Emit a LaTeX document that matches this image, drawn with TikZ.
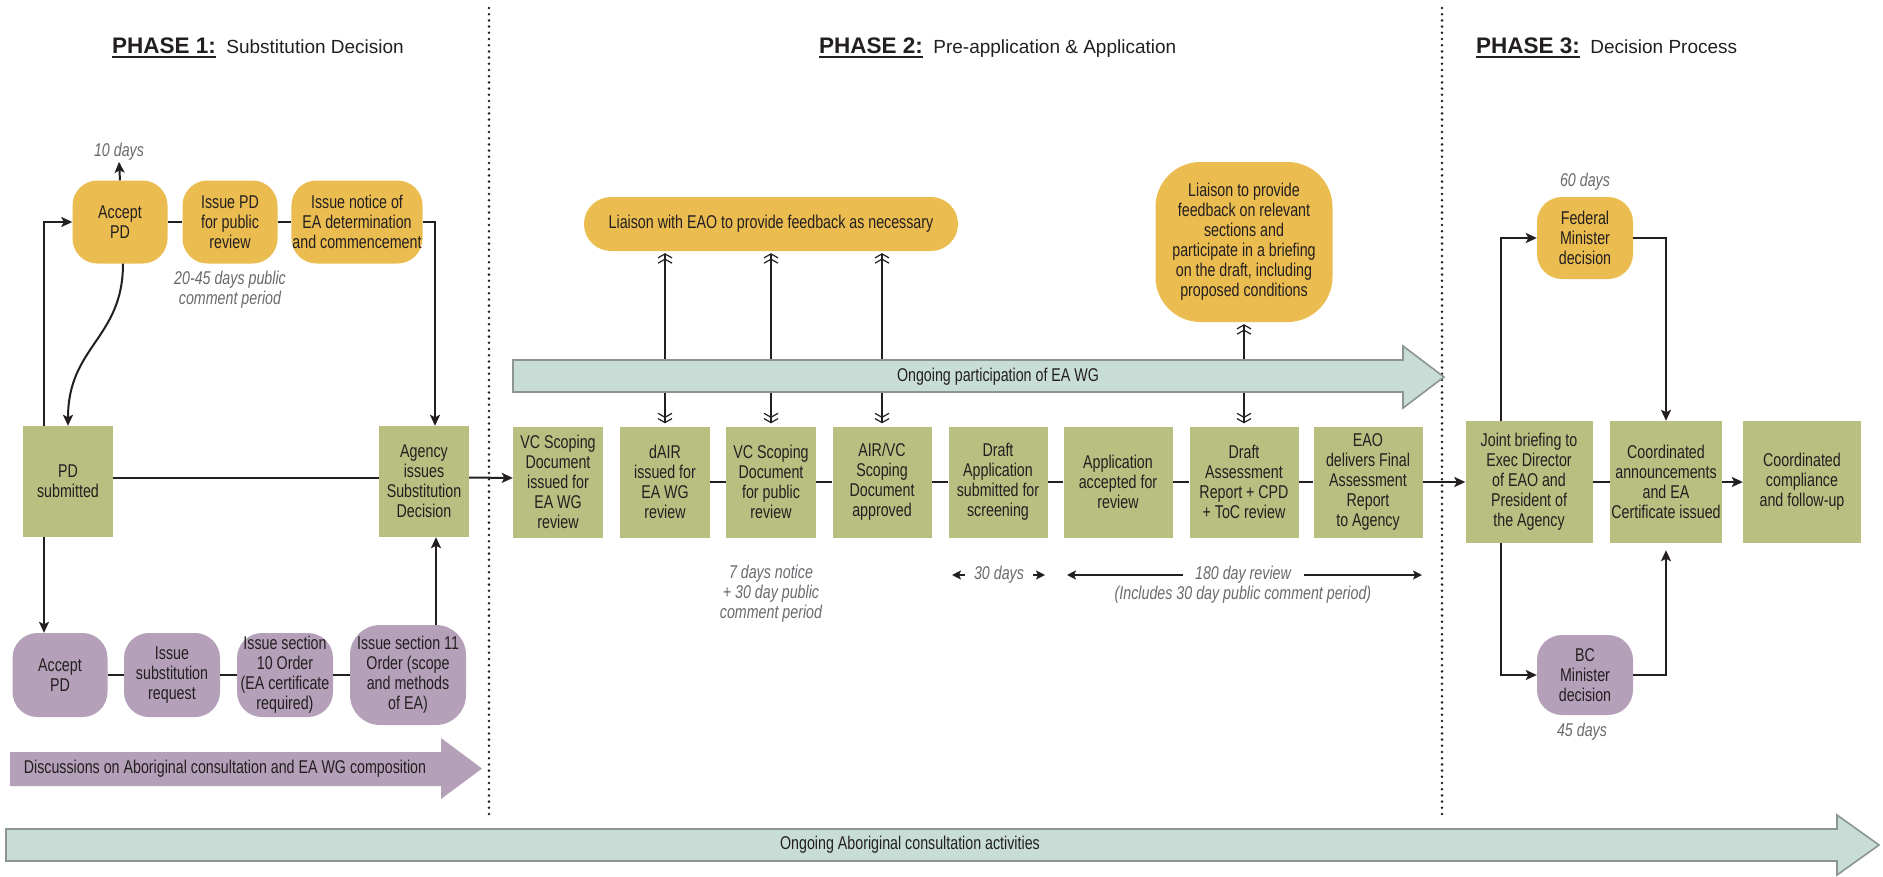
\documentclass[tikz,border=0pt]{standalone}
\usepackage{fontspec}
\setmainfont[FakeStretch=0.77]{Liberation Sans}
\newfontfamily\titlefont{Liberation Sans}
\usetikzlibrary{arrows.meta}
\definecolor{ink}{RGB}{35,31,32}
\definecolor{notegray}{RGB}{105,106,110}
\definecolor{boxgreen}{RGB}{185,191,129}
\definecolor{boxyellow}{RGB}{235,189,80}
\definecolor{boxpurple}{RGB}{180,160,184}
\definecolor{bandteal}{RGB}{200,221,214}
\definecolor{bandedge}{RGB}{140,148,148}

\begin{document}
\begin{tikzpicture}[x=1pt,y=-1pt,
        font=\fontsize{18.5}{20}\selectfont, text=ink,
        green box/.style={fill=boxgreen, minimum width=#1pt, minimum height=111pt, inner sep=1pt, align=center},
        yellow box/.style={fill=boxyellow, rounded corners=25pt, minimum width=95pt, minimum height=83pt, inner sep=1pt, align=center},
        purple box/.style={fill=boxpurple, rounded corners=25pt, minimum width=#1pt, minimum height=84pt, inner sep=1pt, align=center},
        day note/.style={font=\itshape\fontsize{18.5}{20}\selectfont, text=notegray, align=center, inner sep=1pt},
        flow/.style={draw=ink, line width=2pt},
        flow arrow/.style={flow, -{Stealth[length=11pt,width=10pt,inset=2.5pt]}},
        span arrow/.style={draw=ink, line width=1.6pt, -{Stealth[length=9pt,width=9pt,inset=2pt]}},
        dbl arrow/.style={draw=ink, line width=1.8pt,
          {Straight Barb[length=4pt,width=14pt,line width=1.2pt]Straight Barb[length=4pt,width=14pt,line width=1.2pt]}-{Straight Barb[length=4pt,width=14pt,line width=1.2pt]Straight Barb[length=4pt,width=14pt,line width=1.2pt]},
          shorten <=3pt, shorten >=2pt},
        band/.style={fill=bandteal, draw=bandedge, line width=1.6pt},
        phase line/.style={draw=ink, line width=2.8pt, line cap=round, dash pattern=on 0pt off 6.2pt},
        phase head/.style={anchor=base west, inner sep=0pt, font=\titlefont\bfseries\fontsize{22.5}{26}\selectfont},
        phase name/.style={anchor=base west, inner sep=0pt, font=\titlefont\fontsize{19}{22}\selectfont},
        under line/.style={draw=ink, line width=2.6pt}]
  \useasboundingbox (0,0) rectangle (1883,876);
  \fill[white] (0,0) rectangle (1883,876);

  % titles
  \node[phase head] (ph1) at (112,53) {PHASE 1:};
  \node[phase name] (ph1n) at ([xshift=10pt]ph1.base east) {Substitution Decision};
  \node[phase head] (ph2) at (819,53) {PHASE 2:};
  \node[phase name] (ph2n) at ([xshift=10pt]ph2.base east) {Pre-application \& Application};
  \node[phase head] (ph3) at (1476,53) {PHASE 3:};
  \node[phase name] (ph3n) at ([xshift=10pt]ph3.base east) {Decision Process};
  \foreach \p in {ph1,ph2,ph3}
    \draw[under line] ([yshift=-3.8pt]\p.base west) -- ([yshift=-3.8pt]\p.base east);

  \draw[phase line] (489,8) -- (489,819);
  \draw[phase line] (1442,8) -- (1442,819);

  % phase 1
  \node[yellow box] (acc) at (120,222) {Accept\\PD};
  \node[yellow box] (ipd) at (230,222) {Issue PD\\for public\\review};
  \node[yellow box, minimum width=128pt] (notice) at (357,222) {Issue notice of\\EA determination\\and commencement};
  \node[day note] (d10) at (119,152) {10 days};
  \node[day note] (d2045) at (230,290) {20-45 days public\\comment period};
  \node[green box=90] (pdsub) at (68,481.5) {PD\\submitted};
  \node[green box=90] (agency) at (424,481.5) {Agency\\issues\\Substitution\\Decision};
  \node[purple box=95] (accp) at (60,675) {Accept\\PD};
  \node[purple box=96] (subreq) at (172,675) {Issue\\substitution\\request};
  \node[purple box=96] (sec10) at (285,675) {Issue section\\10 Order\\(EA certificate\\required)};
  \node[purple box=116, minimum height=100pt, rounded corners=30pt] (sec11) at (408,675) {Issue section 11\\Order (scope\\and methods\\of EA)};

  \draw[flow arrow] (acc.north) -- (d10.south);
  \draw[flow] (acc.east) -- (ipd.west) (ipd.east) -- (notice.west);
  \draw[flow arrow] (notice.east) -| ([xshift=11pt]agency.north);
  \draw[flow arrow] ([xshift=-24pt]pdsub.north) |- (acc.west);
  \draw[flow arrow] ([xshift=3pt]acc.south) .. controls +(0,75) and +(0,-80) .. (pdsub.north);
  \draw[flow] ([yshift=4pt]pdsub.east) -- ([yshift=4pt]agency.west);
  \draw[flow arrow] ([xshift=-24pt]pdsub.south) -- ([xshift=-24pt]pdsub.south |- accp.north);
  \draw[flow] (accp.east) -- (subreq.west) (subreq.east) -- (sec10.west) (sec10.east) -- (sec11.west);
  \draw[flow arrow] ([xshift=28pt]sec11.north) -- ([xshift=28pt]sec11.north |- agency.south);

  \fill[boxpurple] (10,752) -- (441,752) -- (441,738) -- (482,768.5) -- (441,799) -- (441,786) -- (10,786) -- cycle;
  \node (disc) at (225,769) {Discussions on Aboriginal consultation and EA WG composition};

  % phase 2
  \node[yellow box, minimum width=374pt, minimum height=54pt, rounded corners=27pt] (lia) at (771,224) {Liaison with EAO to provide feedback as necessary};
  \node[yellow box, minimum width=177pt, minimum height=160pt, rounded corners=45pt] (lia2) at (1244,242) {Liaison to provide\\feedback on relevant\\sections and\\participate in a briefing\\on the draft, including\\proposed conditions};
  \node[green box=90]  (b1) at (558,482)  {VC Scoping\\Document\\issued for\\EA WG\\review};
  \node[green box=90]  (b2) at (665,482)  {dAIR\\issued for\\EA WG\\review};
  \node[green box=90]  (b3) at (771,482)  {VC Scoping\\Document\\for public\\review};
  \node[green box=99]  (b4) at (882,482)  {AIR/VC\\Scoping\\Document\\approved};
  \node[green box=99]  (b5) at (998,482)  {Draft\\Application\\submitted for\\screening};
  \node[green box=109] (b6) at (1118,482) {Application\\accepted for\\review};
  \node[green box=109] (b7) at (1244,482) {Draft\\Assessment\\Report + CPD\\+ ToC review};
  \node[green box=109] (b8) at (1368,482) {EAO\\delivers Final\\Assessment\\Report\\to Agency};

  \draw[flow arrow] ([yshift=4pt]agency.east) -- ([yshift=4pt]b1.west);
  \draw[flow] (b2.east) -- (b3.west) (b3.east) -- (b4.west) (b4.east) -- (b5.west)
              (b5.east) -- (b6.west) (b6.east) -- (b7.west) (b7.east) -- (b8.west);
  \foreach \b in {b2,b3,b4}
    \draw[dbl arrow] (\b.north) -- (\b.north |- lia.south);
  \draw[dbl arrow] (b7.north) -- (b7.north |- lia2.south);

  \filldraw[band] (513,360) -- (1403,360) -- (1403,346) -- (1444,377) -- (1403,408) -- (1403,392) -- (513,392) -- cycle;
  \node (wg) at (998,377) {Ongoing participation of EA WG};

  \node[day note] (d7) at (771,594) {7 days notice\\+ 30 day public\\comment period};
  \node[day note] (d30) at (999,575) {30 days};
  \node[day note] (d180) at (1243,575) {180 day review};
  \node[day note] (d180b) at (1243,595) {(Includes 30 day public comment period)};
  \coordinate (t30a) at (952,575);
  \coordinate (t30b) at (1045,575);
  \coordinate (t180a) at (1067,575);
  \coordinate (t180b) at (1422,575);
  \draw[span arrow, shorten <=8pt] (d30.west) -- (t30a);
  \draw[span arrow, shorten <=8pt] (d30.east) -- (t30b);
  \draw[span arrow, shorten <=11pt] (d180.west) -- (t180a);
  \draw[span arrow, shorten <=12pt] (d180.east) -- (t180b);

  % phase 3
  \node[yellow box, minimum width=96pt, minimum height=82pt] (fed) at (1585,238) {Federal\\Minister\\decision};
  \node[day note] (d60) at (1585,182) {60 days};
  \node[green box=127, minimum height=122pt] (joint) at (1529,482) {Joint briefing to\\Exec Director\\of EAO and\\President of\\the Agency};
  \node[green box=109, minimum height=122pt] (coord) at (1666,482) {Coordinated\\announcements\\and EA\\Certificate issued};
  \node[green box=118, minimum height=122pt] (comply) at (1802,482) {Coordinated\\compliance\\and follow-up};
  \node[purple box=96, minimum height=80pt] (bcmin) at (1585,675) {BC\\Minister\\decision};
  \node[day note] (d45) at (1582,732) {45 days};

  \draw[flow arrow] (b8.east) -- (joint.west);
  \draw[flow arrow] ([xshift=-28pt]joint.north) |- (fed.west);
  \draw[flow arrow] (fed.east) -| (coord.north);
  \draw[flow arrow] ([xshift=-28pt]joint.south) |- (bcmin.west);
  \draw[flow arrow, shorten >=7pt] (bcmin.east) -| (coord.south);
  \draw[flow] (joint.east) -- (coord.west);
  \draw[flow arrow] (coord.east) -- (comply.west);

  % bottom band
  \filldraw[band] (6,829) -- (1837,829) -- (1837,815) -- (1879,845) -- (1837,875) -- (1837,861) -- (6,861) -- cycle;
  \node (abor) at (910,845) {Ongoing Aboriginal consultation activities};
\end{tikzpicture}
\end{document}
